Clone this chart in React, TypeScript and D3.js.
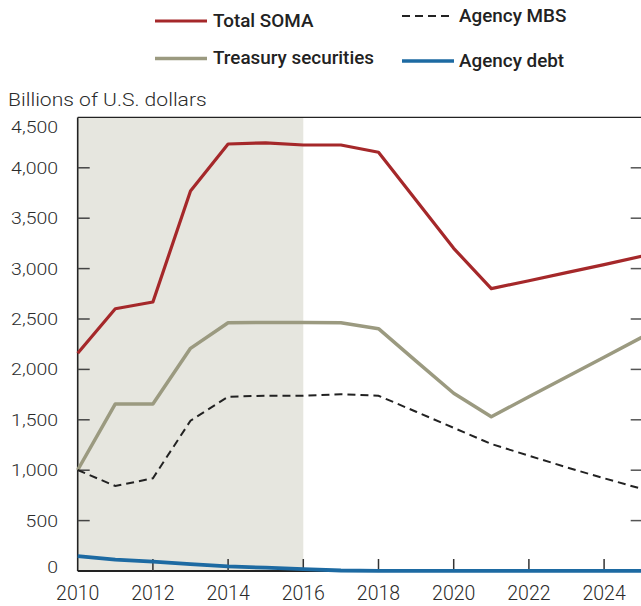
import React from "react";
import * as d3 from "d3";

const years = [2010, 2011, 2012, 2013, 2014, 2015, 2016, 2017, 2018, 2019, 2020, 2021, 2022, 2023, 2024, 2025];
const totalSoma = [2160, 2602, 2669, 3770, 4236, 4248, 4226, 4226, 4154, 3678, 3201, 2801, 2880, 2960, 3040, 3122];
const treasury = [1002, 1657, 1657, 2209, 2463, 2465, 2465, 2463, 2404, 2082, 1763, 1531, 1728, 1925, 2121, 2318];
const agencyMBS = [1002, 843, 920, 1491, 1729, 1739, 1739, 1753, 1739, 1580, 1420, 1260, 1144, 1029, 920, 815];
const agencyDebt = [148, 112, 92, 68, 45, 33, 18, 5, 2, 2, 2, 2, 2, 2, 2, 2];

const yTicks = [0, 500, 1000, 1500, 2000, 2500, 3000, 3500, 4000, 4500];
const xTicks = [2010, 2012, 2014, 2016, 2018, 2020, 2022, 2024];
const shadeRange = [2010, 2016];
const yTitle = "Billions of U.S. dollars";

const legendItems = [
  { label: "Total SOMA", color: "#a5282a", dash: "", width: 3.2 },
  { label: "Agency MBS", color: "#222", dash: "8,5", width: 2 },
  { label: "Treasury securities", color: "#9b9a80", dash: "", width: 3.5 },
  { label: "Agency debt", color: "#1d6aa2", dash: "", width: 3.5 },
];

export default function App() {
  const W = 641;
  const H = 606;
  const left = 77.7;
  const right = 641.7;
  const top = 117.4;
  const bottom = 571;

  const x = d3.scaleLinear().domain([2010, 2025]).range([left, right]);
  const y = d3.scaleLinear().domain([0, 4500]).range([bottom, top]);
  const fmt = d3.format(",");

  const line = (vals: number[]) =>
    d3
      .line<number>()
      .x((_, i) => x(years[i]))
      .y((d) => y(d))(vals) as string;

  const font = "Roboto, 'Noto Sans', sans-serif";
  const text = "#2b2b2b";

  const legendPos = [
    { lx: 155, ly: 21, tx: 213, ty: 27 },
    { lx: 402, ly: 16, tx: 459, ty: 22 },
    { lx: 155, ly: 58.5, tx: 213, ty: 64 },
    { lx: 402, ly: 61, tx: 459, ty: 67 },
  ];

  return (
    <svg
      width={W}
      height={H}
      style={{ position: "absolute", left: 0, top: 0, display: "block", background: "#fff" }}
    >
      <rect
        x={x(shadeRange[0])}
        y={top}
        width={x(shadeRange[1]) - x(shadeRange[0])}
        height={bottom - top}
        fill="#e6e6df"
      />

      {/* axes frame */}
      <line x1={left} x2={left} y1={top} y2={bottom} stroke="#222" strokeWidth={1.6} />
      <line x1={left} x2={right} y1={top} y2={top} stroke="#222" strokeWidth={1.4} />
      <line x1={left} x2={right} y1={bottom} y2={bottom} stroke="#222" strokeWidth={1.8} />

      {yTicks.map((t) => (
        <g key={"yt" + t}>
          {t > 0 && t < 4500 && (
            <>
              <line x1={left} x2={left + 12} y1={y(t)} y2={y(t)} stroke="#444" strokeWidth={1.5} />
              <line x1={right - 11} x2={right} y1={y(t)} y2={y(t)} stroke="#555" strokeWidth={1.5} />
            </>
          )}
          <text
            transform={`translate(58,${t === 4500 ? y(t) + 16 : t === 0 ? y(t) + 2 : y(t) + 6}) scale(1.18,1)`}
            textAnchor="end"
            fontFamily={font}
            fontSize={16.5}
            fontWeight={300}
            fill={text}
          >
            {fmt(t)}
          </text>
        </g>
      ))}

      {xTicks.map((t) => (
        <g key={"xt" + t}>
          {t > 2010 && (
            <line x1={x(t)} x2={x(t)} y1={bottom} y2={bottom - 12} stroke="#333" strokeWidth={1.5} />
          )}
          <text
            x={x(t)}
            y={600}
            textAnchor="middle"
            fontFamily={font}
            fontSize={19.5}
            fontWeight={300}
            fill={text}
          >
            {t}
          </text>
        </g>
      ))}

      <text
        transform="translate(8,106) scale(1.11,1)"
        fontFamily={font}
        fontSize={19}
        fontWeight={300}
        fill={text}
      >
        {yTitle}
      </text>

      {/* series */}
      <path d={line(treasury)} fill="none" stroke={legendItems[2].color} strokeWidth={3.5} strokeLinejoin="round" />
      <path d={line(agencyMBS)} fill="none" stroke={legendItems[1].color} strokeWidth={2} strokeDasharray="8,5" />
      <path d={line(totalSoma)} fill="none" stroke={legendItems[0].color} strokeWidth={3.2} strokeLinejoin="round" />
      <path d={line(agencyDebt)} fill="none" stroke={legendItems[3].color} strokeWidth={3.8} strokeLinejoin="round" />

      {/* legend */}
      {legendItems.map((it, i) => {
        const p = legendPos[i];
        return (
          <g key={it.label}>
            <line
              x1={p.lx}
              x2={p.lx + 52}
              y1={p.ly}
              y2={p.ly}
              stroke={it.color}
              strokeWidth={it.width}
              strokeDasharray={it.dash || undefined}
            />
            <text
              transform={`translate(${p.tx},${p.ty}) scale(1.06,1)`}
              fontFamily={font}
              fontSize={17.8}
              fontWeight={500}
              fill="#222"
            >
              {it.label}
            </text>
          </g>
        );
      })}
    </svg>
  );
}
